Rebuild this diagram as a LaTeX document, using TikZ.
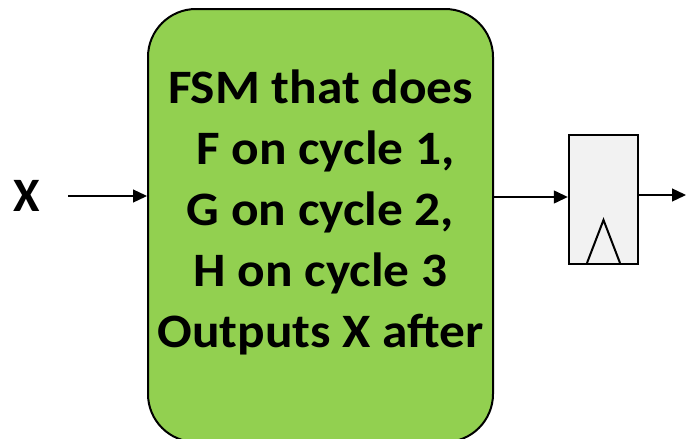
\documentclass[tikz,border=0pt]{standalone}
\usepackage{fontspec}
\setmainfont{Carlito}
\newfontfamily\labelfont[FakeStretch=1.07]{Carlito}
\usetikzlibrary{arrows.meta}
\definecolor{fsmgreen}{HTML}{92D050}
\definecolor{ffgrey}{HTML}{F2F2F2}
\tikzset{
  wire/.style={line width=1.3pt, -{Triangle[length=14pt,width=13pt]}},
  fsmbox/.style={draw=black, line width=2pt, fill=fsmgreen, rounded corners=48pt,
    minimum width=345pt, minimum height=433pt, inner sep=0pt},
  fsmtext/.style={align=center, font=\labelfont\fontsize{48}{61}\selectfont\bfseries, inner sep=0pt},
  ffbox/.style={draw=black, line width=2.4pt, fill=ffgrey, minimum width=69pt,
    minimum height=129pt, inner sep=0pt},
  sig/.style={font=\fontsize{48}{58}\selectfont\bfseries, inner sep=0pt}
}
\begin{document}
\begin{tikzpicture}[x=1pt, y=-1pt]
  \useasboundingbox (0,0) rectangle (686,439);
  % state machine block and its description
  \node[fsmbox] (fsm) at (320.5,225.5) {};
  \node[fsmtext] (desc) at (320.5,212) {FSM that does\\\hspace{10pt}F on cycle 1,\\G on cycle 2,\\H on cycle 3\\Outputs X after};
  % output register with clock mark
  \node[ffbox] (ff) at (603.5,199.5) {};
  \draw[line width=2pt, line join=miter] (587,263) -- (603.5,220) -- (620,263);
  % input signal
  \node[sig] (x) at (27,196) {X};
  \coordinate (xin) at (68,196);
  \coordinate (fsmout) at (fsm.east |- 0,197);
  \coordinate (qout) at (686,195);
  \draw[wire] (xin) -- (fsm.west |- xin);
  \draw[wire] (fsmout) -- (ff.west |- fsmout);
  \draw[wire] (ff.east |- qout) -- (qout);
\end{tikzpicture}
\end{document}
